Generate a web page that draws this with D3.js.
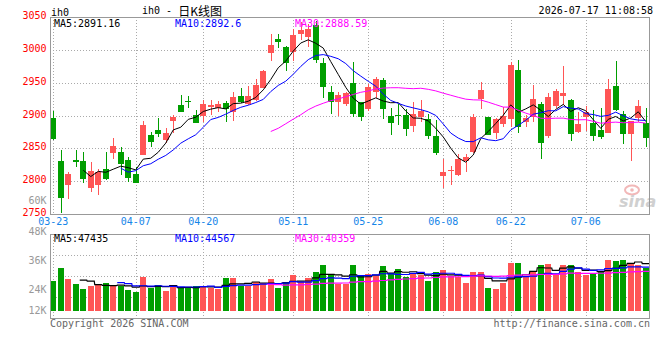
<!DOCTYPE html>
<html><head><meta charset="utf-8">
<script src="https://cdn.jsdelivr.net/npm/d3@7"></script>
<style>body{margin:0;background:#fff}svg{display:block}</style>
</head><body><svg id="c" width="660" height="360"></svg>
<script>
const dates = ["03-23","03-24","03-25","03-26","03-27","03-30","03-31","04-01","04-02","04-03",
"04-06","04-07","04-08","04-09","04-10","04-13","04-14","04-15","04-16","04-17",
"04-20","04-21","04-22","04-23","04-24","04-27","04-28","04-29","04-30","05-06",
"05-07","05-08","05-11","05-12","05-13","05-14","05-15","05-18","05-19","05-20",
"05-21","05-22","05-25","05-26","05-27","05-28","05-29","06-01","06-02","06-03",
"06-04","06-05","06-08","06-09","06-10","06-11","06-12","06-15","06-16","06-17",
"06-18","06-22","06-23","06-24","06-25","06-26","06-29","06-30","07-01","07-02",
"07-03","07-06","07-07","07-08","07-09","07-10","07-13","07-14","07-15","07-16"];
const opens = [2895.8,2831.3,2794.2,2832.4,2831.3,2790.2,2794.2,2818.6,2843.5,2845.1,
2832.4,2811.0,2840.0,2870.4,2878.1,2862.8,2891.8,2916.2,2922.3,2900.9,
2899.9,2913.6,2912.1,2918.7,2906.0,2929.9,2917.7,2923.8,2942.6,2994.9,
3016.8,3003.6,2996.4,3024.4,3018.8,3038.0,2979.7,2935.5,2920.2,2917.2,
2949.2,2920.2,2910.1,2936.5,2954.3,2899.4,2900.9,2900.9,2884.7,2898.4,
2894.8,2868.9,2808.5,2816.1,2809.5,2831.3,2845.1,2925.3,2898.4,2874.0,
2887.2,2894.8,2969.5,2889.8,2897.4,2917.7,2869.4,2915.2,2930.4,2923.8,
2875.5,2898.4,2889.3,2878.1,2874.0,2945.1,2902.5,2871.5,2896.9,2888.2];
const highs = [2907.0,2847.6,2814.6,2847.6,2845.1,2829.8,2818.6,2844.0,2865.4,2852.7,
2836.4,2822.2,2891.8,2874.5,2895.8,2880.6,2900.9,2931.4,2929.9,2908.6,
2923.8,2923.8,2922.3,2922.3,2935.5,2941.6,2945.1,2955.8,2969.5,3024.4,
3024.4,3005.1,3032.0,3042.2,3039.1,3044.0,2987.3,2945.1,2935.5,2935.5,
2981.2,2920.2,2947.7,2958.3,2956.8,2911.1,2917.2,2909.6,2920.2,2923.8,
2902.0,2893.3,2833.9,2823.7,2841.0,2841.0,2902.5,2950.7,2898.4,2895.8,
2913.6,2981.2,2984.8,2900.9,2946.7,2920.2,2934.0,2940.6,2976.1,2925.3,
2906.0,2915.2,2908.6,2911.1,2955.8,2983.7,2907.0,2891.8,2923.8,2911.1];
const lows = [2862.8,2752.0,2772.9,2822.2,2797.8,2784.1,2779.0,2801.9,2833.9,2809.5,
2798.3,2796.8,2840.0,2852.7,2867.9,2857.8,2873.0,2906.0,2911.1,2888.2,
2889.8,2900.9,2906.0,2890.8,2892.3,2918.7,2916.2,2922.3,2941.6,2983.7,
3002.5,2968.5,2983.7,3015.2,3003.6,2980.7,2926.3,2902.5,2899.9,2915.2,
2898.4,2891.8,2907.5,2927.4,2894.8,2870.5,2885.7,2869.4,2875.5,2890.8,
2864.4,2840.0,2790.2,2794.2,2808.0,2814.6,2843.5,2910.1,2870.5,2864.4,
2883.2,2883.2,2873.0,2883.2,2890.8,2833.9,2866.4,2912.1,2916.2,2861.3,
2873.0,2876.5,2861.3,2864.4,2874.0,2907.0,2856.7,2831.3,2890.8,2852.7];
const closes = [2864.3,2774.9,2811.0,2829.8,2803.4,2816.1,2814.6,2803.4,2853.7,2826.3,
2804.4,2797.8,2885.7,2860.3,2872.0,2874.0,2898.4,2906.0,2920.2,2888.2,
2917.7,2916.2,2917.7,2910.1,2928.9,2921.3,2930.4,2946.7,2968.0,3007.6,
3011.2,2980.7,3022.9,3029.5,3032.0,2984.8,2944.1,2920.2,2931.4,2934.0,
2902.5,2898.4,2944.1,2955.3,2910.1,2889.3,2899.9,2879.6,2902.5,2907.5,
2869.4,2843.5,2813.6,2817.1,2833.9,2836.4,2898.4,2939.0,2870.5,2894.8,
2899.4,2977.1,2883.2,2895.8,2925.3,2858.8,2928.9,2937.5,2934.0,2871.5,
2887.2,2906.0,2869.4,2867.9,2940.6,2908.6,2872.0,2891.8,2915.2,2866.4];
const volumes = [27931,33310,28759,26690,24621,25862,26138,27103,26276,25862,
24207,23379,29586,25034,26276,23793,25448,25448,25448,25862,
25862,25034,24621,29172,29172,25862,25862,27517,27103,28759,
25034,27517,30414,27517,29172,31655,34552,30414,26552,26552,
34552,30000,30828,30000,34138,31103,32897,29586,31103,30414,
27931,31655,32483,30000,29586,27103,31655,31655,25034,24621,
27103,35518,35380,30000,31655,34552,34966,30414,34552,34552,
31655,30414,30828,31655,36621,36207,36621,34966,34552,33448];
const priceTicks = [2750,2800,2850,2900,2950,3000,3050];
const volTicks = [12000,24000,36000,48000];
const volTickLabels = ["12K","24K","36K","48K"];
const dateTicks = ["03-23","04-07","04-20","05-11","05-25","06-08","06-22","07-06"];
const priceLegend = ["MA5:2891.16","MA10:2892.6","MA30:2888.59"];
const volLegend = ["MA5:47435","MA10:44567","MA30:40359"];
const maPeriods = [5,10,30];
const maColors = ["#000000","#0000ff","#ff00ff"];

const RED="#ff5555", GREEN="#009e00";
const MONO="'DejaVu Sans Mono','Liberation Mono',monospace";
const svg = d3.select("#c");
const L=50, R=650, PT=17, PB=214, VT=234, VB=318;
const idx = d3.range(dates.length);
const x = d3.scaleBand().domain(idx).range([49.5,649.5]).paddingInner(0.2).paddingOuter(0.1);
const cx = i => x(i) + x.bandwidth()/2;
const y = d3.scaleLinear().domain([2750,3050]).range([PB,PT]);
const yv = d3.scaleLinear().domain([12000,48000]).range([319.5,232.5]);
const volBase = 15500;

function ma(arr,n){return arr.map((v,i)=> i<n-1?null: d3.mean(arr.slice(i-n+1,i+1)));}

const defs = svg.append("defs");
defs.append("clipPath").attr("id","cp").append("rect").attr("x",L).attr("y",PT).attr("width",R-L).attr("height",PB-PT);
defs.append("clipPath").attr("id","cv").append("rect").attr("x",L).attr("y",VT).attr("width",R-L).attr("height",VB-VT);

// grid
const grid = svg.append("g").attr("stroke","#aaa").attr("stroke-dasharray","1,2").attr("shape-rendering","crispEdges");
priceTicks.filter(t=>t>2750&&t<3050).forEach(t=>{
  grid.append("line").attr("x1",L).attr("x2",R).attr("y1",Math.round(y(t))+0.5).attr("y2",Math.round(y(t))+0.5);
});
[0.25,0.5,0.75].forEach(f=>{
  const yy=Math.round(VT+(VB-VT)*f)+0.5;
  grid.append("line").attr("x1",L).attr("x2",R).attr("y1",yy).attr("y2",yy);
});
dateTicks.forEach(d=>{
  const xx=Math.round(cx(dates.indexOf(d)))+0.5;
  grid.append("line").attr("x1",xx).attr("x2",xx).attr("y1",PT).attr("y2",PB);
  grid.append("line").attr("x1",xx).attr("x2",xx).attr("y1",VT).attr("y2",VB+2);
});

// watermark
const wm = svg.append("g");
wm.append("ellipse").attr("cx",632).attr("cy",190).attr("rx",7).attr("ry",4.5).attr("fill","none").attr("stroke","#f2b8b8").attr("stroke-width",2);
wm.append("circle").attr("cx",632).attr("cy",190).attr("r",1.8).attr("fill","#f2b8b8");
wm.append("text").attr("x",619).attr("y",207).attr("font-family","'DejaVu Sans',sans-serif").attr("font-style","italic").attr("font-weight","bold").attr("font-size",16).attr("fill","#d0d0d0").text("sina");

// candles
const cg = svg.append("g").attr("clip-path","url(#cp)").attr("shape-rendering","crispEdges");
idx.forEach(i=>{
  const col = closes[i]>=opens[i]?RED:GREEN;
  const xc = Math.round(cx(i))+0.5;
  cg.append("line").attr("x1",xc).attr("x2",xc).attr("y1",y(highs[i])).attr("y2",y(lows[i])).attr("stroke",col);
  const top=y(Math.max(opens[i],closes[i])), bot=y(Math.min(opens[i],closes[i]));
  cg.append("rect").attr("x",Math.round(x(i))).attr("width",Math.round(x.bandwidth())).attr("y",top).attr("height",Math.max(1,bot-top)).attr("fill",col);
});
const lg = svg.append("g").attr("clip-path","url(#cp)").attr("fill","none");
maPeriods.forEach((n,k)=>{
  const m = ma(closes,n);
  lg.append("path").datum(idx.filter(i=>m[i]!==null)).attr("stroke",maColors[k]).attr("stroke-width",1)
    .attr("d",d3.line().x(i=>cx(i)).y(i=>y(m[i])));
});

// volume
const vg = svg.append("g").attr("clip-path","url(#cv)").attr("shape-rendering","crispEdges");
idx.forEach(i=>{
  const col = closes[i]>=opens[i]?RED:GREEN;
  vg.append("rect").attr("x",Math.round(x(i))).attr("width",Math.round(x.bandwidth())).attr("y",yv(volumes[i])).attr("height",yv(volBase)-yv(volumes[i])).attr("fill",col);
});
const vlg = svg.append("g").attr("clip-path","url(#cv)").attr("fill","none");
maPeriods.forEach((n,k)=>{
  const m = ma(volumes,n);
  const pts=[];
  idx.filter(i=>m[i]!==null).forEach(i=>{pts.push([x(i)-0.5,yv(m[i])]);pts.push([x(i)+x.bandwidth()+0.5,yv(m[i])]);});
  vlg.append("path").datum(pts).attr("stroke",maColors[k]).attr("stroke-width",1.2).attr("d",d3.line());
});

// frames
svg.append("rect").attr("x",L+0.5).attr("y",PT+0.5).attr("width",R-L-1).attr("height",PB-PT).attr("fill","none").attr("stroke","#999").attr("shape-rendering","crispEdges");
svg.append("rect").attr("x",L+0.5).attr("y",VT+0.5).attr("width",R-L-1).attr("height",VB-VT).attr("fill","none").attr("stroke","#999").attr("shape-rendering","crispEdges");

// text
const T = (xx,yy,s,col,anchor,size)=>svg.append("text").attr("x",xx).attr("y",yy).attr("fill",col).attr("font-family",MONO)
  .attr("font-size",size||10).attr("text-anchor",anchor||"start").attr("dominant-baseline","central").text(s);
priceTicks.forEach(t=>T(46.5,y(t)-1.5,String(t),"#ff0000","end"));
T(46.5,200,"60K","#999","end");
volTicks.forEach((t,k)=>T(46.5,Math.min(yv(t)-1,310),volTickLabels[k],"#999","end"));
dateTicks.forEach(d=>T(cx(dates.indexOf(d)),221,d,"#1585e8","middle"));
const legX=[54,175,295];
priceLegend.forEach((s,k)=>T(legX[k],23.5,s,maColors[k]));
volLegend.forEach((s,k)=>T(legX[k],238.5,s,maColors[k]));
T(51,12,"ih0","#000");
const title = svg.append("text").attr("x",142).attr("y",10).attr("dominant-baseline","central").attr("fill","#000");
title.append("tspan").attr("font-family",MONO).attr("font-size",10).text("ih0 - ");
title.append("tspan").attr("font-family","'Noto Sans CJK SC',sans-serif").attr("font-size",12).text("日K线图");
T(653,10,"2026-07-17 11:08:58","#000","end");
T(50,323.5,"Copyright 2026 SINA.COM","#666");
T(650,323.5,"http://finance.sina.com.cn","#666","end");
</script></body></html>
